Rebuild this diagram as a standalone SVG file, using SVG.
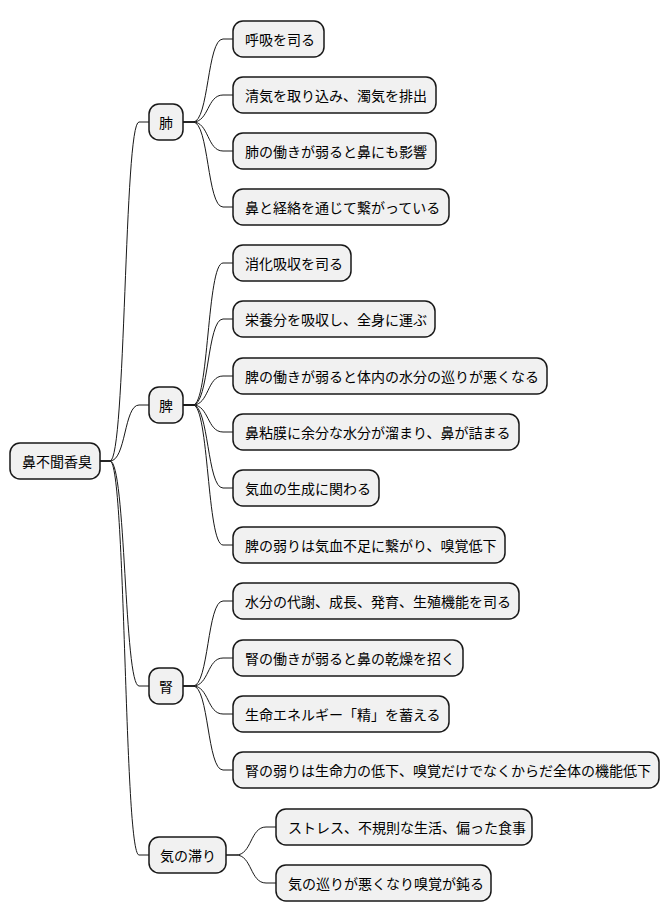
<svg xmlns="http://www.w3.org/2000/svg" width="670" height="921" viewBox="0 0 670 921">
<style>
rect{fill:#f1f1f1;stroke:#181818;stroke-width:1.5}
text{font-family:"Noto Sans CJK JP","Noto Sans",sans-serif;font-size:14px;fill:#000;dominant-baseline:central}
#c path{fill:none;stroke:#181818;stroke-width:1}
</style>
<rect x="0" y="0" width="670" height="921" style="fill:#fff;stroke:none"/>
<g id="c">
<path d="M100,461 H110 C126,461 124,122 139,122 H149"/>
<path d="M100,461 H110 C126,461 124,405 139,405 H149"/>
<path d="M100,461 H110 C126,461 124,686 139,686 H149"/>
<path d="M100,461 H110 C126,461 124,855 139,855 H149"/>
<path d="M183,122 H193 C209,122 207,39 223,39 H233"/>
<path d="M183,122 H193 C209,122 207,95 223,95 H233"/>
<path d="M183,122 H193 C209,122 207,151 223,151 H233"/>
<path d="M183,122 H193 C209,122 207,207 223,207 H233"/>
<path d="M183,405 H193 C209,405 207,263 223,263 H233"/>
<path d="M183,405 H193 C209,405 207,319 223,319 H233"/>
<path d="M183,405 H193 C209,405 207,376 223,376 H233"/>
<path d="M183,405 H193 C209,405 207,432 223,432 H233"/>
<path d="M183,405 H193 C209,405 207,488 223,488 H233"/>
<path d="M183,405 H193 C209,405 207,545 223,545 H233"/>
<path d="M183,686 H193 C209,686 207,601 223,601 H233"/>
<path d="M183,686 H193 C209,686 207,658 223,658 H233"/>
<path d="M183,686 H193 C209,686 207,714 223,714 H233"/>
<path d="M183,686 H193 C209,686 207,770 223,770 H233"/>
<path d="M226,855 H236 C252,855 250,827 266,827 H276"/>
<path d="M226,855 H236 C252,855 250,883 266,883 H276"/>
</g>
<g id="root"><rect x="10" y="443" width="90" height="36" rx="10"/><text x="22" y="461">鼻不聞香臭</text></g>
<g id="lung"><rect x="149" y="104" width="34" height="36" rx="10"/><text x="159" y="122">肺</text></g>
<g id="spleen"><rect x="149" y="387" width="34" height="36" rx="10"/><text x="159" y="405">脾</text></g>
<g id="kidney"><rect x="149" y="668" width="34" height="36" rx="10"/><text x="159" y="686">腎</text></g>
<g id="qi"><rect x="149" y="837" width="77" height="36" rx="10"/><text x="160" y="855">気の滞り</text></g>
<g id="l1"><rect x="233" y="21" width="91" height="36" rx="10"/><text x="245" y="39">呼吸を司る</text></g>
<g id="l2"><rect x="233" y="77" width="203" height="36" rx="10"/><text x="245" y="95">清気を取り込み、濁気を排出</text></g>
<g id="l3"><rect x="233" y="133" width="203" height="36" rx="10"/><text x="245" y="151">肺の働きが弱ると鼻にも影響</text></g>
<g id="l4"><rect x="233" y="189" width="216" height="36" rx="10"/><text x="245" y="207">鼻と経絡を通じて繋がっている</text></g>
<g id="s1"><rect x="233" y="245" width="118" height="36" rx="10"/><text x="245" y="263">消化吸収を司る</text></g>
<g id="s2"><rect x="233" y="301" width="202" height="36" rx="10"/><text x="245" y="319">栄養分を吸収し、全身に運ぶ</text></g>
<g id="s3"><rect x="233" y="358" width="314" height="36" rx="10"/><text x="245" y="376">脾の働きが弱ると体内の水分の巡りが悪くなる</text></g>
<g id="s4"><rect x="233" y="414" width="286" height="36" rx="10"/><text x="245" y="432">鼻粘膜に余分な水分が溜まり、鼻が詰まる</text></g>
<g id="s5"><rect x="233" y="470" width="146" height="36" rx="10"/><text x="245" y="488">気血の生成に関わる</text></g>
<g id="s6"><rect x="233" y="527" width="272" height="36" rx="10"/><text x="245" y="545">脾の弱りは気血不足に繋がり、嗅覚低下</text></g>
<g id="k1"><rect x="233" y="583" width="286" height="36" rx="10"/><text x="245" y="601">水分の代謝、成長、発育、生殖機能を司る</text></g>
<g id="k2"><rect x="233" y="640" width="230" height="36" rx="10"/><text x="245" y="658">腎の働きが弱ると鼻の乾燥を招く</text></g>
<g id="k3"><rect x="233" y="696" width="216" height="36" rx="10"/><text x="245" y="714">生命エネルギー「精」を蓄える</text></g>
<g id="k4"><rect x="233" y="752" width="426" height="36" rx="10"/><text x="245" y="770">腎の弱りは生命力の低下、嗅覚だけでなくからだ全体の機能低下</text></g>
<g id="q1"><rect x="276" y="809" width="256" height="36" rx="10"/><text x="288" y="827">ストレス、不規則な生活、偏った食事</text></g>
<g id="q2"><rect x="276" y="865" width="215" height="36" rx="10"/><text x="288" y="883">気の巡りが悪くなり嗅覚が鈍る</text></g>
</svg>
